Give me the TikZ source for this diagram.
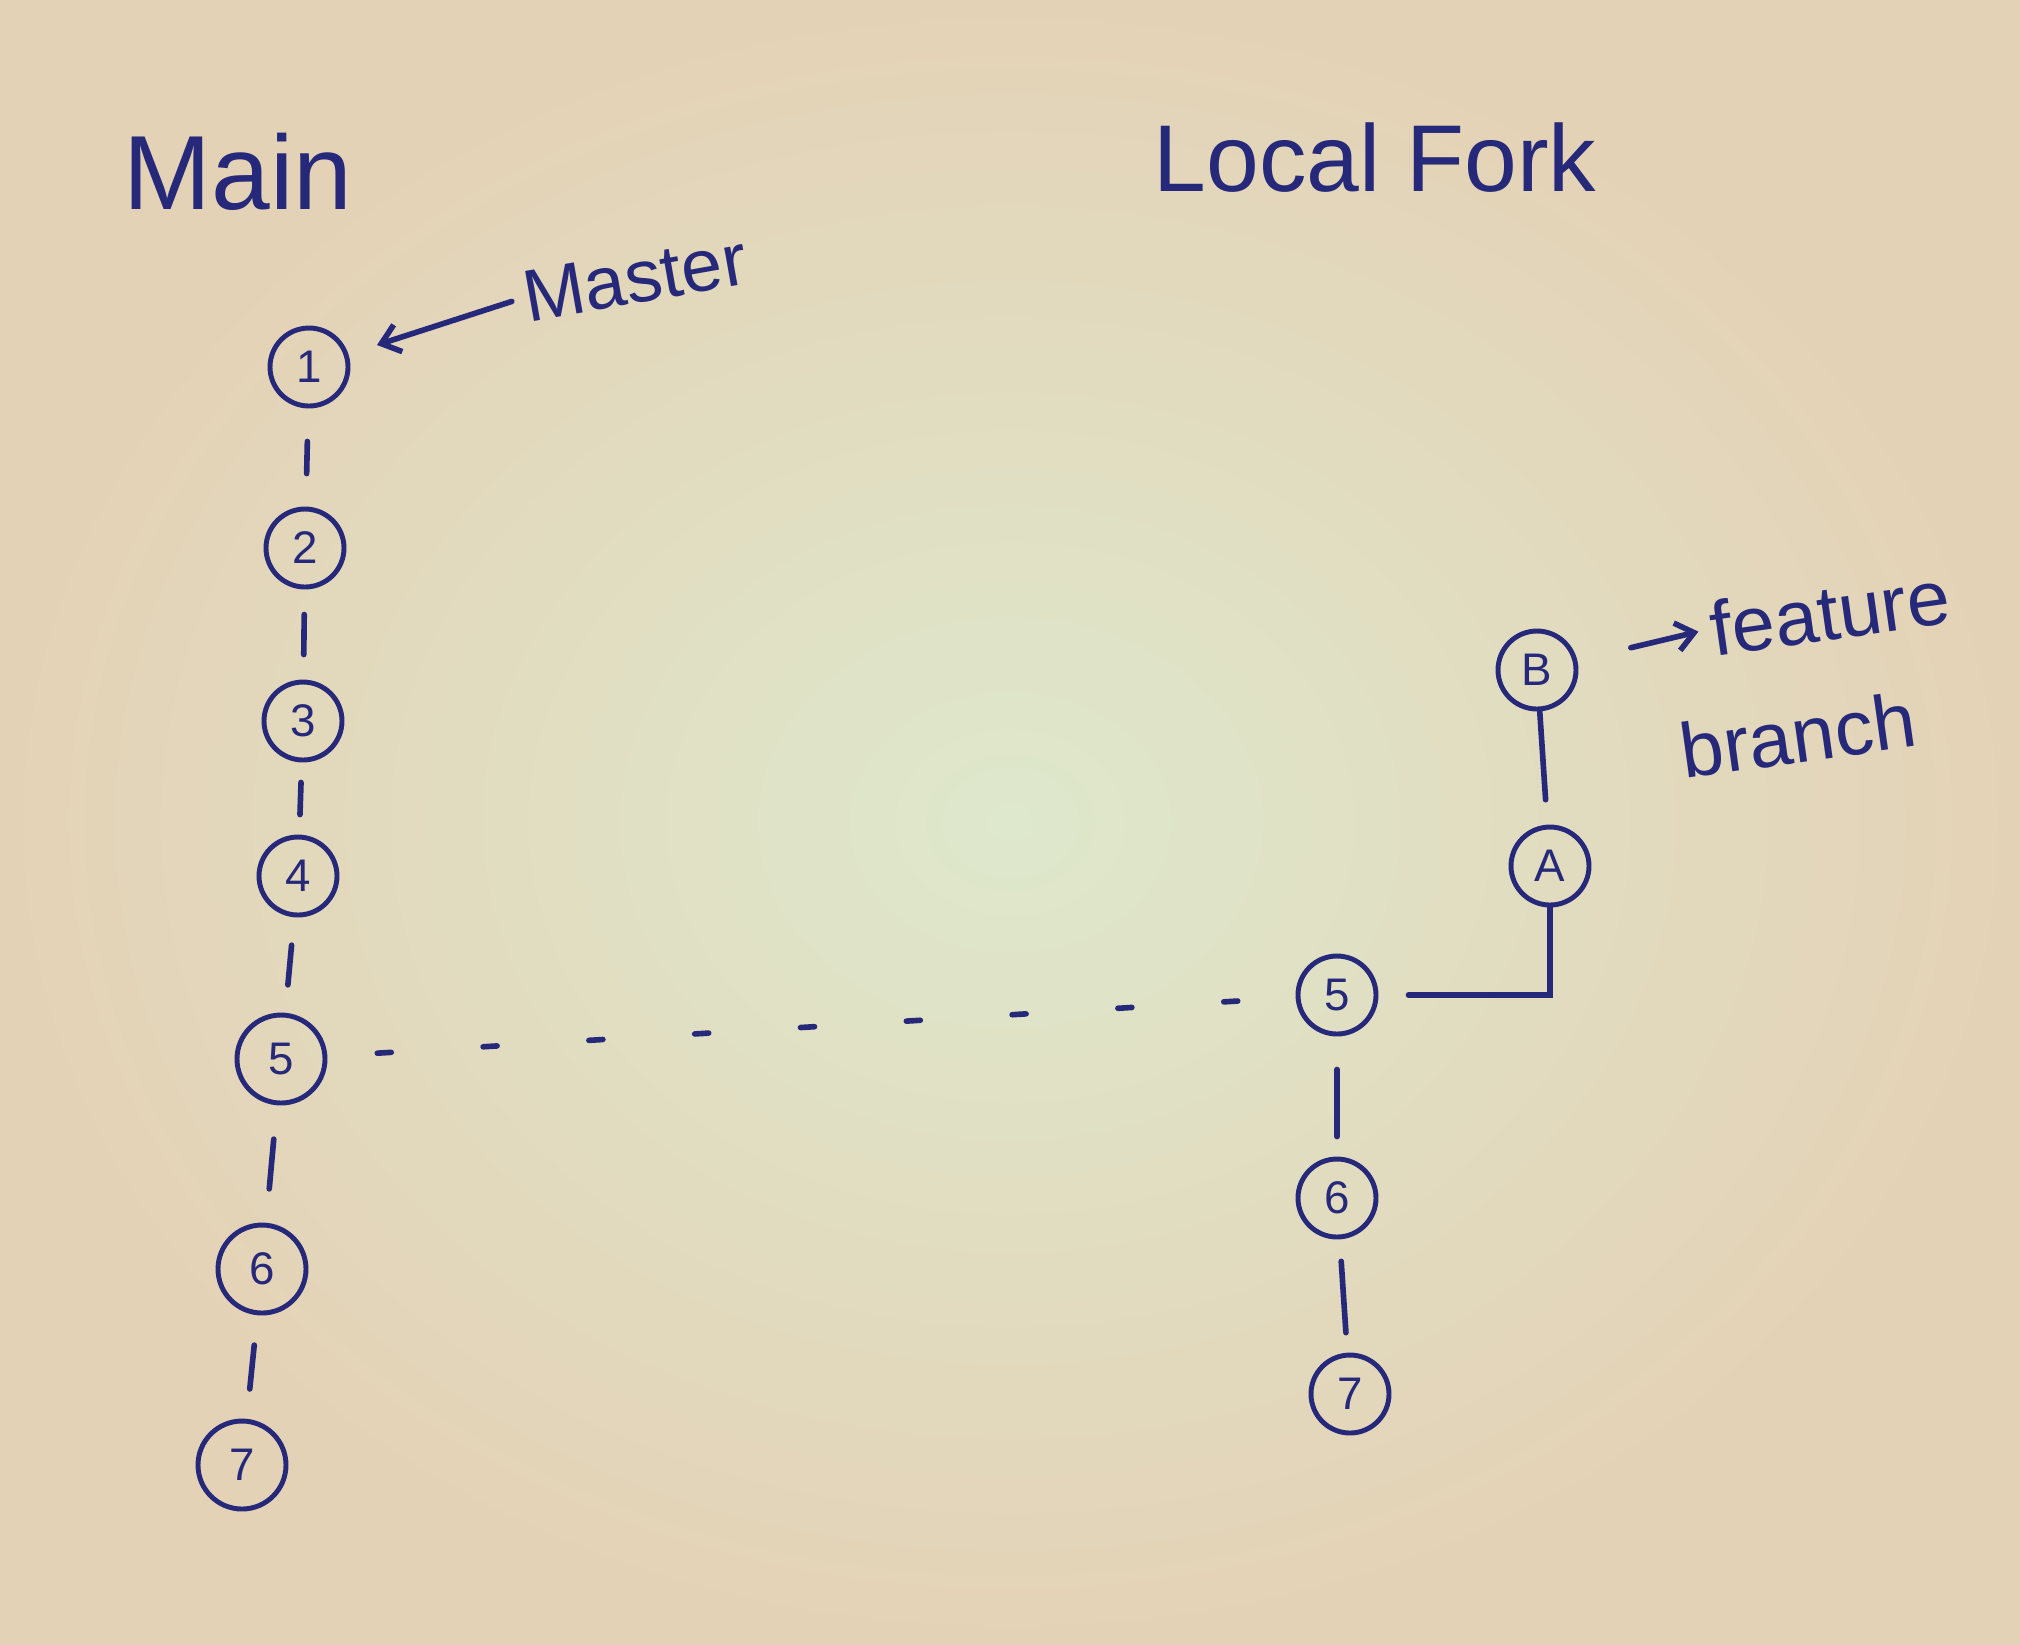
\documentclass[tikz,border=0pt]{standalone}
\usepackage{fontspec}
\setmainfont{Liberation Sans}
\usetikzlibrary{arrows.meta}
\definecolor{ink}{RGB}{38,40,122}
\definecolor{paper}{RGB}{228,210,182}
\definecolor{paperlight}{RGB}{222,232,204}
\begin{document}
\begin{tikzpicture}[
  x=1cm, y=1cm,
  commit/.style={circle, draw=ink, line width=1.4pt, minimum size=0.78cm,
                 inner sep=0pt, text=ink, font=\fontsize{13}{13}\selectfont},
  bigcommit/.style={commit, minimum size=0.88cm},
  ink line/.style={draw=ink, line width=1.6pt, line cap=round},
  tick/.style={ink line, shorten <=#1, shorten >=#1},
  tick/.default=0.3cm,
  pointer/.style={ink line, -{Straight Barb[length=5pt,width=8pt]}},
  title/.style={text=ink, font=\fontsize{30}{30}\selectfont, inner sep=0pt},
  note/.style={text=ink, font=\fontsize{21}{21}\selectfont, inner sep=0pt},
]
% paper
\shade[inner color=paperlight, outer color=paper] (0,0) rectangle (20.2,-16.44);
\useasboundingbox (0,0) rectangle (20.2,-16.44);

% headings
\node[title] (hmain) at (2.38,-1.72) {Main};
\node[title, font=\fontsize{27}{27}\selectfont] (hfork) at (13.75,-1.58) {Local Fork};

% main repository history
\node[commit]    (m1) at (3.09,-3.67)  {1};
\node[commit]    (m2) at (3.05,-5.48)  {2};
\node[commit]    (m3) at (3.03,-7.21)  {3};
\node[commit]    (m4) at (2.98,-8.76)  {4};
\node[bigcommit] (m5) at (2.81,-10.59) {5};
\node[bigcommit] (m6) at (2.62,-12.69) {6};
\node[bigcommit] (m7) at (2.42,-14.65) {7};

\draw[tick=0.33cm] (m1) -- (m2);
\draw[tick=0.25cm] (m2) -- (m3);
\draw[tick=0.2cm]  (m3) -- (m4);
\draw[tick=0.28cm] (m4) -- (m5);
\draw[tick=0.34cm] (m5) -- (m6);
\draw[tick=0.3cm]  (m6) -- (m7);

% master label
\node[note, rotate=10] (mlabel) at (6.35,-2.78) {Master};
\draw[pointer, shorten <=0.12cm, shorten >=0.3cm] (mlabel.west) -- (m1);

% local fork history
\node[commit] (f5) at (13.37,-9.95)  {5};
\node[commit] (f6) at (13.37,-11.98) {6};
\node[commit] (f7) at (13.50,-13.94) {7};
\node[commit] (fa) at (15.50,-8.66)  {A};
\node[commit] (fb) at (15.37,-6.70)  {B};
\coordinate (corner) at (15.50,-9.95);

\draw[ink line, shorten <=0.33cm, shorten >=0.2cm] (f5) -- (f6);
\draw[ink line, shorten <=0.22cm, shorten >=0.2cm] (f6) -- (f7);

% feature branch
\draw[ink line, shorten <=0.3cm] (f5) -- (corner) -- (fa);
\draw[ink line, shorten >=0.25cm] (fb) -- (fa);

\node[note, rotate=8, font=\fontsize{22}{22}\selectfont] (ffeat) at (18.3,-6.12) {feature};
\node[note, rotate=8, font=\fontsize{22}{22}\selectfont] (fbranch) at (17.98,-7.35) {branch};
\draw[pointer, shorten <=0.55cm, shorten >=0.12cm] (fb) -- (ffeat.west);

% fork point
\draw[ink line, dash pattern=on 0.14cm off 0.92cm, shorten <=0.5cm, shorten >=0.42cm] (m5) -- (f5);
\end{tikzpicture}
\end{document}
